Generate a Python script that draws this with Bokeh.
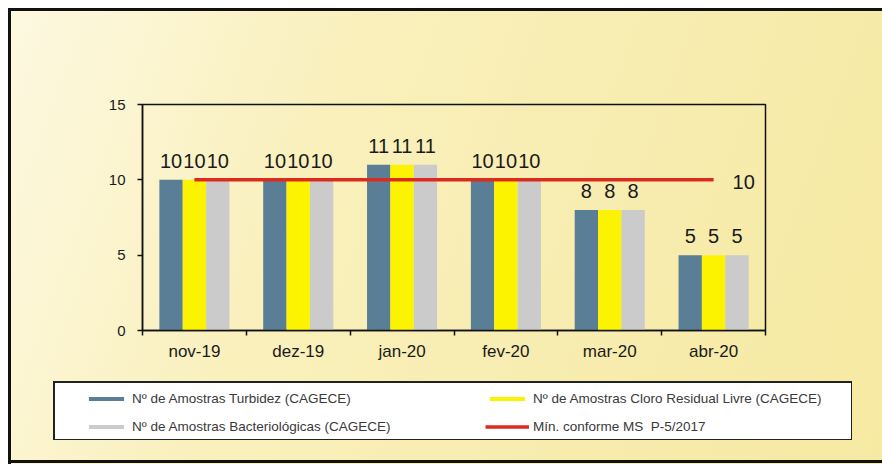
import numpy as np
from bokeh.plotting import figure
from bokeh.layouts import column
from bokeh.models import Range1d, FixedTicker, Legend, LegendItem, ColumnDataSource
from bokeh.core.properties import value
from bokeh.embed import file_html
from bokeh.resources import INLINE

categories = ["nov-19", "dez-19", "jan-20", "fev-20", "mar-20", "abr-20"]
turbidez = [10, 10, 11, 10, 8, 5]
cloro = [10, 10, 11, 10, 8, 5]
bacterio = [10, 10, 11, 10, 8, 5]
minimo = [10, 10, 10, 10, 10, 10]
y_ticks = [0, 5, 10, 15]

series_names = ["Nº de Amostras Turbidez (CAGECE)",
                "Nº de Amostras Cloro Residual Livre (CAGECE)",
                "Nº de Amostras Bacteriológicas (CAGECE)"]
min_name = "Mín. conforme MS  P-5/2017"
colors = ["#5a7e96", "#fcf300", "#cbcbcb"]
red = "#dc2a1e"

FONT = "Liberation Sans"
GRAD = "linear-gradient(110deg, #fdf9e2 0%, #f9f0bc 35%, #f6e9a2 100%) fixed"

bg_top = ", ".join([
    "linear-gradient(#fff,#fff) 0 0 / 100% 8px no-repeat",
    "linear-gradient(#fff,#fff) 0 0 / 8px 100% no-repeat",
    "linear-gradient(#111,#111) 8px 8px / 100% 3px no-repeat",
    "linear-gradient(#111,#111) 8px 8px / 3px 100% no-repeat",
    GRAD,
])
bg_bot = ", ".join([
    "linear-gradient(#fff,#fff) 0 0 / 8px 100% no-repeat",
    "linear-gradient(#fff,#fff) 54.5px 10.5px / 796px 56px no-repeat",
    "linear-gradient(#222,#222) 53px 9px / 799px 59px no-repeat",
    "linear-gradient(#111,#111) 8px 0 / 3px 100% no-repeat",
    "linear-gradient(#111,#111) 0 88px / 100% 3px no-repeat",
    GRAD,
])

# ---------------- chart ----------------
p = figure(width=882, height=372, output_backend="svg", toolbar_location=None,
           x_range=Range1d(0, len(categories)), y_range=Range1d(0, 15),
           min_border_left=142, min_border_right=117, min_border_top=104,
           min_border_bottom=42, styles={"background": bg_top})
p.border_fill_alpha = 0
p.background_fill_alpha = 0
p.outline_line_color = "#111111"
p.outline_line_width = 1.5
p.xgrid.visible = False
p.ygrid.visible = False

idx = np.arange(len(categories))
centers = idx + 0.5
width = 0.225
offsets = [-width, 0.0, width]
sources = []
for vals, off, col in zip([turbidez, cloro, bacterio], offsets, colors):
    src = ColumnDataSource(dict(x=centers + off, top=vals, lbl=[str(v) for v in vals]))
    sources.append(src)
    p.vbar(x="x", top="top", width=width, bottom=0, source=src,
           fill_color=col, line_color=None)
    p.text(x="x", y="top", text="lbl", source=src, text_align="center",
           text_baseline="alphabetic", y_offset=-19, text_font=value(FONT),
           text_font_size="20px", text_color="#1a1a1a")

line_src = ColumnDataSource(dict(x=centers, y=minimo))
p.line(x="x", y="y", source=line_src, line_color=red, line_width=3.5)
end_src = ColumnDataSource(dict(x=[centers[-1]], y=[minimo[-1]], lbl=[str(minimo[-1])]))
p.text(x="x", y="y", text="lbl", source=end_src, text_align="left",
       text_baseline="middle", x_offset=19, y_offset=2, text_font=value(FONT),
       text_font_size="20px", text_color="#1a1a1a")

p.xaxis.ticker = FixedTicker(ticks=list(centers), minor_ticks=list(np.arange(len(categories) + 1)))
p.xaxis.major_label_overrides = {float(c): n for c, n in zip(centers, categories)}
p.xaxis.major_tick_in = 0
p.xaxis.major_tick_out = 0
p.xaxis.minor_tick_in = 0
p.xaxis.minor_tick_out = 5
p.xaxis.major_label_standoff = 6
p.xaxis.major_label_text_font_size = "17px"
p.yaxis.ticker = FixedTicker(ticks=y_ticks, minor_ticks=[])
p.yaxis.major_tick_in = 0
p.yaxis.major_tick_out = 5
p.yaxis.major_label_standoff = 12
p.yaxis.major_label_text_font_size = "15px"
for ax in (p.xaxis, p.yaxis):
    ax.axis_line_color = "#111111"
    ax.axis_line_width = 1.5
    ax.major_tick_line_color = "#111111"
    ax.minor_tick_line_color = "#111111"
    ax.major_tick_line_width = 1.5
    ax.minor_tick_line_width = 1.5
    ax.major_label_text_font = FONT
    ax.major_label_text_color = "#1a1a1a"

# ---------------- legend strip ----------------
q = figure(width=882, height=92, output_backend="svg", toolbar_location=None,
           x_range=Range1d(0, 1), y_range=Range1d(0, 1),
           x_axis_location=None, y_axis_location=None,
           min_border_left=0, min_border_right=0, min_border_top=0, min_border_bottom=0,
           styles={"background": bg_bot})
q.border_fill_alpha = 0
q.background_fill_alpha = 0
q.outline_line_color = None
q.grid.visible = False
for fig in (p, q):
    try:
        fig.frame_align = False
    except AttributeError:
        pass

leg_r = [q.vbar(x="x", top="top", width=width, bottom=0, source=s,
                fill_color=c, line_color=None, visible=False)
         for s, c in zip(sources, colors)]
leg_line = q.line(x="x", y="y", source=line_src, line_color=red, line_width=3.5,
                  visible=False)

items = [LegendItem(label=series_names[0], renderers=[leg_r[0]]),
         LegendItem(label=series_names[2], renderers=[leg_r[2]]),
         LegendItem(label=series_names[1], renderers=[leg_r[1]]),
         LegendItem(label=min_name, renderers=[leg_line])]
legend = Legend(items=items, orientation="vertical", nrows=2,
                location=(84, 28), padding=0, spacing=8, margin=0,
                glyph_width=44, glyph_height=5, label_standoff=4,
                label_width=345, label_height=20,
                label_text_font=FONT, label_text_font_size="13.5px",
                label_text_color="#3a3a3a", inactive_fill_alpha=0,
                border_line_alpha=0, background_fill_alpha=0)
q.add_layout(legend, "center")

layout = column(p, q, spacing=0)
open("out.html", "w").write(file_html(layout, INLINE))
